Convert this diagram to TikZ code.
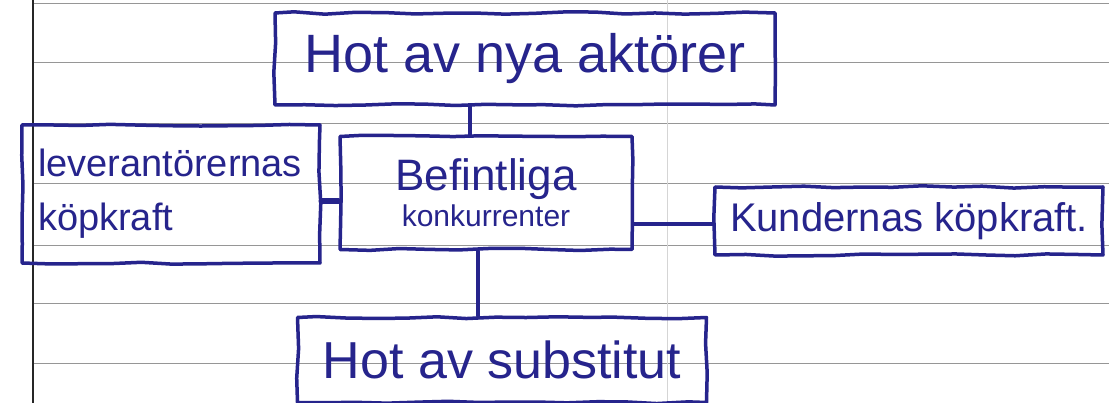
\documentclass[tikz,border=0pt]{standalone}
\usepackage{fontspec}
\setmainfont{Liberation Sans}
\usetikzlibrary{decorations.pathmorphing}
\definecolor{ink}{RGB}{38,36,140}
\definecolor{rule}{RGB}{150,150,150}
\tikzset{
  pen/.style={draw=ink, line width=3.5pt, line join=round, line cap=round,
    decorate, decoration={random steps, segment length=30pt, amplitude=1.2pt}},
  forcebox/.style={pen, rectangle, text=ink, inner sep=6pt},
  link/.style={draw=ink, line width=4.5pt, line cap=round},
  ruled/.style={draw=rule, line width=0.9pt},
}
\begin{document}
\pgfmathsetseed{7}
\begin{tikzpicture}[x=1pt, y=-1pt]
  \useasboundingbox (0,0) rectangle (1109,403);
  \fill[white] (0,0) rectangle (1109,403);
  % ruled paper
  \foreach \y in {3,62,123,183,245,303,363}
    \draw[ruled] (33,\y) -- (1109,\y);
  \draw[draw=black!85, line width=1.3pt] (33,0) -- (33,403);
  \draw[draw=rule!40, line width=0.8pt] (667,0) -- (667,403);

  % the five forces
  \node[forcebox, minimum width=500pt, minimum height=92pt,
        font=\fontsize{54}{60}\selectfont] (top) at (525,59) {Hot av nya aktörer};
  \node[forcebox, minimum width=292pt, minimum height=113pt, align=center]
        (mid) at (486,193) {\fontsize{44}{48}\selectfont Befintliga\\[4pt]
        \fontsize{30}{34}\selectfont konkurrenter};
  \node[forcebox, minimum width=298pt, minimum height=138pt, text width=278pt,
        align=left, font=\fontsize{38}{54}\selectfont]
        (left) at (171,194) {\hspace*{6pt}leverantörernas\\\hspace*{6pt}köpkraft};
  \node[forcebox, minimum width=388pt, minimum height=68pt,
        font=\fontsize{40}{44}\selectfont] (right) at (909,221) {Kundernas köpkraft.};
  \node[forcebox, minimum width=409pt, minimum height=85pt,
        font=\fontsize{52}{56}\selectfont] (bot) at (502,360) {Hot av substitut};

  % connectors
  \draw[link] ([xshift=-16pt]mid.north) -- ([xshift=-16pt]mid.north |- top.south);
  \draw[link] ([xshift=-8pt]mid.south) -- ([xshift=-8pt]mid.south |- bot.north);
  \draw[link] ([yshift=-3pt]right.west) -- ([yshift=-3pt]right.west -| mid.east);
  \draw[link, line width=6.5pt] ([yshift=-8pt]mid.west) -- ([yshift=-8pt]mid.west -| left.east);
\end{tikzpicture}
\end{document}
